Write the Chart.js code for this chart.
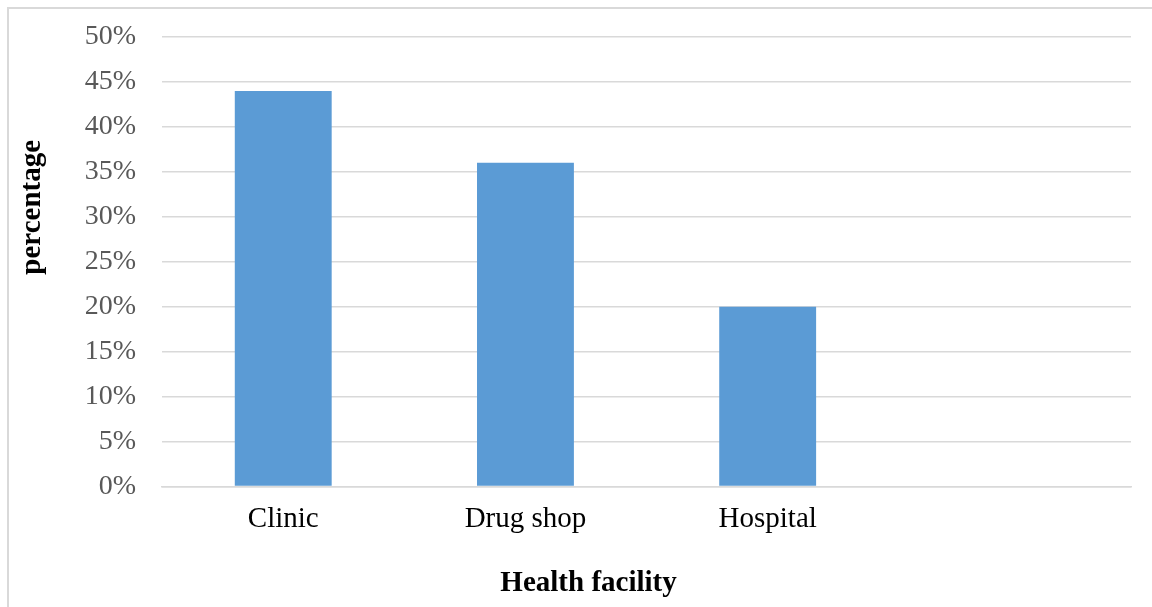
<!DOCTYPE html>
<html>
<head>
<meta charset="utf-8">
<script src="https://cdn.jsdelivr.net/npm/chart.js@4"></script>
<style>
  html, body { margin: 0; padding: 0; background: #fff; }
  #frame {
    position: absolute; left: 7px; top: 7px; width: 2000px; height: 2000px;
    border-left: 2px solid #d9d9d9; border-top: 2px solid #d9d9d9;
  }
  #wrap { position: absolute; left: 0; top: 0; width: 1152px; height: 607px; }
</style>
</head>
<body>
<div id="frame"></div>
<div id="wrap"><canvas id="myChart"></canvas></div>
<script>
const categories = ["Clinic", "Drug shop", "Hospital", ""];
const percentages = [44, 36, 20, null];
const yTicks = [0, 5, 10, 15, 20, 25, 30, 35, 40, 45, 50];

const ctx = document.getElementById("myChart").getContext("2d");

const data = {
  labels: categories,
  datasets: [
    {
      label: "percentage",
      data: percentages,
      backgroundColor: "#5b9bd5",
      borderWidth: 0,
      categoryPercentage: 1,
      barPercentage: 0.4,
    },
  ],
};

const config = {
  type: "bar",
  data: data,
  options: {
    responsive: true,
    maintainAspectRatio: false,
    animation: false,
    layout: {
      padding: { left: 0, right: 21, top: 37, bottom: 0 },
    },
    plugins: {
      legend: { display: false },
      tooltip: { enabled: false },
    },
    scales: {
      x: {
        grid: { display: false, drawTicks: false },
        border: { display: true, color: "#d9d9d9", width: 1.5 },
        ticks: {
          color: "#000",
          padding: 16,
          font: { family: "Liberation Serif", size: 29 },
        },
        title: {
          display: true,
          text: "Health facility" + " ".repeat(16),
          color: "#000",
          padding: { top: 13, bottom: 6 },
          font: { family: "Liberation Serif", size: 29, weight: "bold" },
        },
      },
      y: {
        min: 0,
        max: 50,
        afterBuildTicks: (axis) => {
          axis.ticks = yTicks.map((v) => ({ value: v }));
        },
        grid: {
          color: "#d9d9d9",
          lineWidth: 1.5,
          drawTicks: true,
          tickLength: 6,
          tickColor: "rgba(0,0,0,0)",
        },
        border: { display: false },
        ticks: {
          color: "#595959",
          padding: 20,
          font: { family: "Liberation Serif", size: 28 },
          callback: (v) => v + "%",
        },
        title: {
          display: true,
          text: " ".repeat(15) + "percentage",
          color: "#000",
          padding: { top: 15, bottom: 15 },
          font: { family: "Liberation Serif", size: 29, weight: "bold" },
        },
      },
    },
  },
};

const myChart = new Chart(ctx, config);
</script>
</body>
</html>
